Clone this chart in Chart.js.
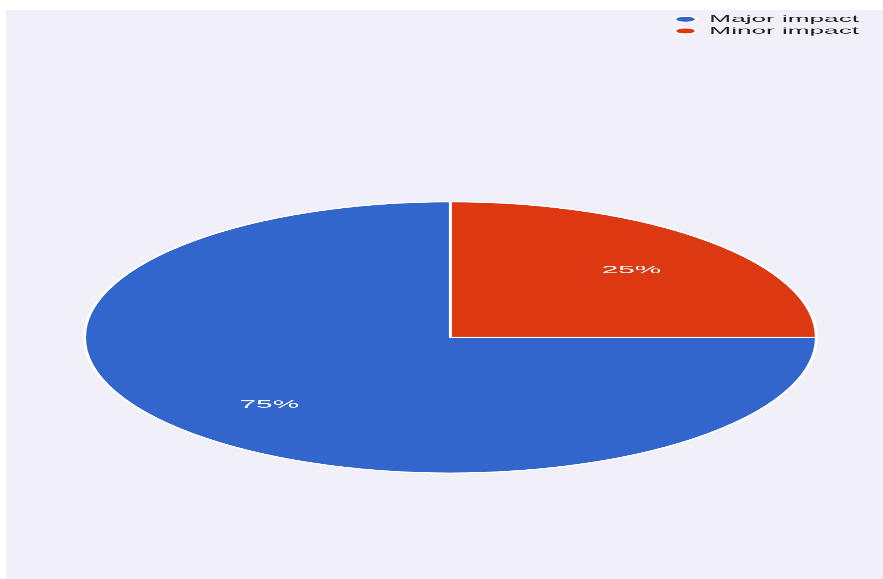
<!DOCTYPE html>
<html>
<head>
<meta charset="utf-8">
<script src="https://cdn.jsdelivr.net/npm/chart.js@4/dist/chart.umd.min.js"></script>
<style>
  html, body { margin: 0; padding: 0; background: #ffffff; }
  body { width: 883px; height: 579px; position: relative; overflow: hidden; }
  #frame { position: absolute; left: 6px; top: 10px; width: 877px; height: 569px; background: #f1f0f8; }
  #pie { display: block; width: 877px !important; height: 569px !important; }
</style>
</head>
<body>
<div id="frame">
  <!-- drawn narrow, then widened by CSS to give the oval pie -->
  <canvas id="pie" width="325" height="569" style="width:877px;height:569px"></canvas>
</div>
<script>
const categories = ['Major impact', 'Minor impact'];
const impactShare = [75, 25];
const sliceColors = ['#3366cc', '#dc3912'];

const FONT = '"Liberation Sans", Arial, sans-serif';
const canvasEl = document.getElementById('pie');
const stretchX = 877 / canvasEl.width;

// Percentage text inside each slice
const sliceLabels = {
  id: 'sliceLabels',
  afterDatasetsDraw(chart) {
    const meta = chart.getDatasetMeta(0);
    const total = impactShare.reduce((a, b) => a + b, 0);
    const ctx = chart.ctx;
    ctx.save();
    ctx.font = '11px ' + FONT;
    ctx.fillStyle = '#ffffff';
    ctx.textAlign = 'center';
    ctx.textBaseline = 'middle';
    meta.data.forEach((arc, i) => {
      const p = arc.getProps(['x', 'y', 'startAngle', 'endAngle', 'outerRadius'], true);
      const mid = (p.startAngle + p.endAngle) / 2;
      const r = p.outerRadius * 0.7;
      const pct = Math.round(impactShare[i] / total * 100) + '%';
      ctx.fillText(pct, p.x + Math.cos(mid) * r, p.y + Math.sin(mid) * r);
    });
    ctx.restore();
  }
};

// Pin the stacked legend to the top-right corner
const legendCorner = {
  id: 'legendCorner',
  afterLayout(chart) {
    const lg = chart.legend;
    if (!lg) return;
    const w = lg.width, h = lg.height;
    lg.left = 245.8;
    lg.top = 2.4;
    lg.right = lg.left + w;
    lg.bottom = lg.top + h;
  }
};

new Chart(canvasEl, {
  type: 'pie',
  data: {
    labels: categories,
    datasets: [{
      data: impactShare,
      backgroundColor: sliceColors,
      borderColor: '#ffffff',
      borderWidth: 1.1,
      hoverOffset: 0
    }]
  },
  options: {
    responsive: false,
    devicePixelRatio: stretchX,
    animation: false,
    events: [],
    rotation: 90,
    radius: 135.6,
    layout: { padding: { left: 10, right: 5.6, top: 110, bottom: 24.4 } },
    plugins: {
      tooltip: { enabled: false },
      legend: {
        position: 'chartArea',
        align: 'start',
        labels: {
          usePointStyle: true,
          pointStyle: 'circle',
          boxHeight: 4.3,
          pointStyleWidth: 8,
          padding: 2,
          color: '#222222',
          font: { family: FONT, size: 9.7 }
        }
      }
    }
  },
  plugins: [sliceLabels, legendCorner]
});
</script>
</body>
</html>
